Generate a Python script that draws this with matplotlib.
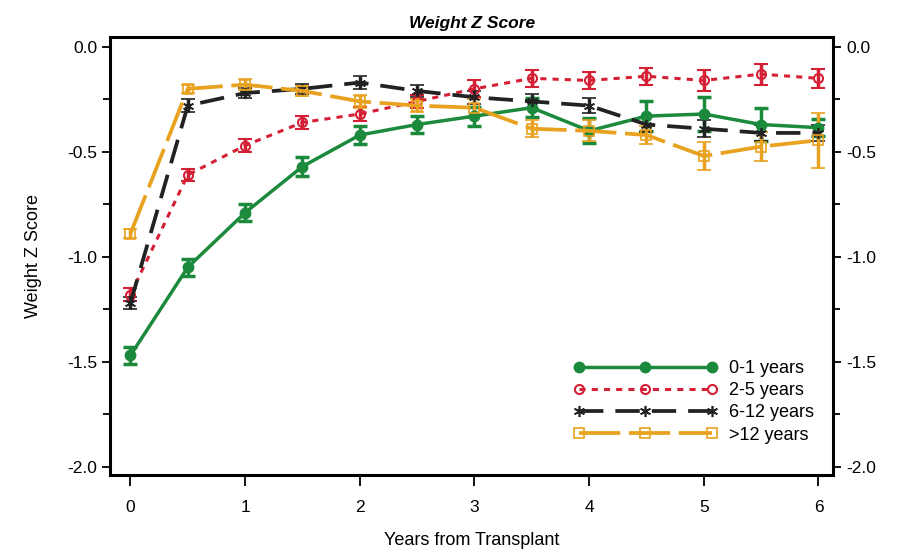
import numpy as np
import matplotlib.pyplot as plt
from matplotlib.ticker import MultipleLocator
from matplotlib.lines import Line2D

plt.rcParams['font.family'] = ['Liberation Sans', 'DejaVu Sans']

years = [0, 0.5, 1, 1.5, 2, 2.5, 3, 3.5, 4, 4.5, 5, 5.5, 6]

# mean weight z score per age group
z_0_1 = [-1.47, -1.05, -0.79, -0.57, -0.42, -0.37, -0.33, -0.29, -0.40, -0.33, -0.32, -0.37, -0.385]
z_2_5 = [-1.18, -0.61, -0.47, -0.36, -0.32, -0.26, -0.20, -0.15, -0.16, -0.14, -0.16, -0.13, -0.15]
z_6_12 = [-1.22, -0.28, -0.22, -0.20, -0.17, -0.21, -0.24, -0.26, -0.28, -0.37, -0.39, -0.41, -0.41]
z_12 = [-0.89, -0.20, -0.18, -0.21, -0.26, -0.28, -0.29, -0.39, -0.40, -0.42, -0.52, -0.475, -0.445]

err_0_1 = [0.04, 0.04, 0.04, 0.045, 0.045, 0.04, 0.045, 0.045, 0.06, 0.07, 0.08, 0.08, 0.04]
err_2_5 = [0.03, 0.03, 0.03, 0.03, 0.035, 0.03, 0.04, 0.04, 0.04, 0.04, 0.05, 0.05, 0.045]
err_6_12 = [0.03, 0.03, 0.025, 0.025, 0.03, 0.03, 0.03, 0.035, 0.035, 0.035, 0.04, 0.04, 0.04]
err_12 = [0.02, 0.02, 0.025, 0.025, 0.03, 0.03, 0.04, 0.04, 0.05, 0.045, 0.065, 0.07, 0.13]

labels = ['0-1 years', '2-5 years', '6-12 years', '>12 years']

fig = plt.figure(figsize=(9, 5.57), dpi=100)
ax = fig.add_axes([0.122, 0.147, 0.804, 0.787])

green = '#1b8a3c'
red = '#d41f35'
black = '#222222'
orange = '#e8a21f'

series = [
    (z_0_1, err_0_1, green, dict(linestyle='-', marker='o', markersize=7.5, mfc=green, lw=2.5)),
    (z_2_5, err_2_5, red, dict(linestyle=(0, (2.0, 2.0)), marker='o', markersize=6.5, mfc='none', lw=2.2, mew=1.5)),
    (z_6_12, err_6_12, black, dict(linestyle=(0, (6.5, 3.2)), marker=(6, 2, 0), markersize=8, lw=2.7, mew=1.2)),
    (z_12, err_12, orange, dict(linestyle=(0, (11, 2.3)), marker='s', markersize=7, mfc='none', lw=2.7, mew=1.2)),
]

handles = []
for (vals, errs, col, style), lab in zip(series, labels):
    ax.errorbar(years, vals, yerr=errs, color=col, ecolor=col, elinewidth=2.5,
                capsize=5, capthick=2.5, **style)
    handles.append(Line2D([], [], color=col, label=lab, **style))

ax.set_xlim(-0.18, 6.13)
ax.set_ylim(-2.04, 0.048)
ax.set_xticks(range(7))
ax.yaxis.set_major_locator(MultipleLocator(0.5))
ax.yaxis.set_minor_locator(MultipleLocator(0.25))
ax.yaxis.set_major_formatter(plt.FormatStrFormatter('%.1f'))

ax.tick_params(axis='both', which='both', direction='out', labelsize=12.5, width=1.3)
ax.tick_params(axis='y', which='major', length=6, right=True, labelright=True, pad=3)
ax.tick_params(axis='y', which='minor', length=5, right=True)
ax.tick_params(axis='x', length=8, pad=10)

for sp in ax.spines.values():
    sp.set_linewidth(2.2)

ax.set_xlabel('Years from Transplant', fontsize=13, labelpad=12)
ax.set_ylabel('Weight Z Score', fontsize=13, labelpad=18)
ax.set_title('Weight Z Score', fontsize=12.5, fontweight='bold', fontstyle='italic', pad=6)

ax.legend(handles=handles, loc='lower right', bbox_to_anchor=(0.995, 0.035), frameon=False,
          fontsize=13, handlelength=8, numpoints=3, labelspacing=0.28, handletextpad=0.6)

fig.savefig('out.png', dpi=100, facecolor='white')
